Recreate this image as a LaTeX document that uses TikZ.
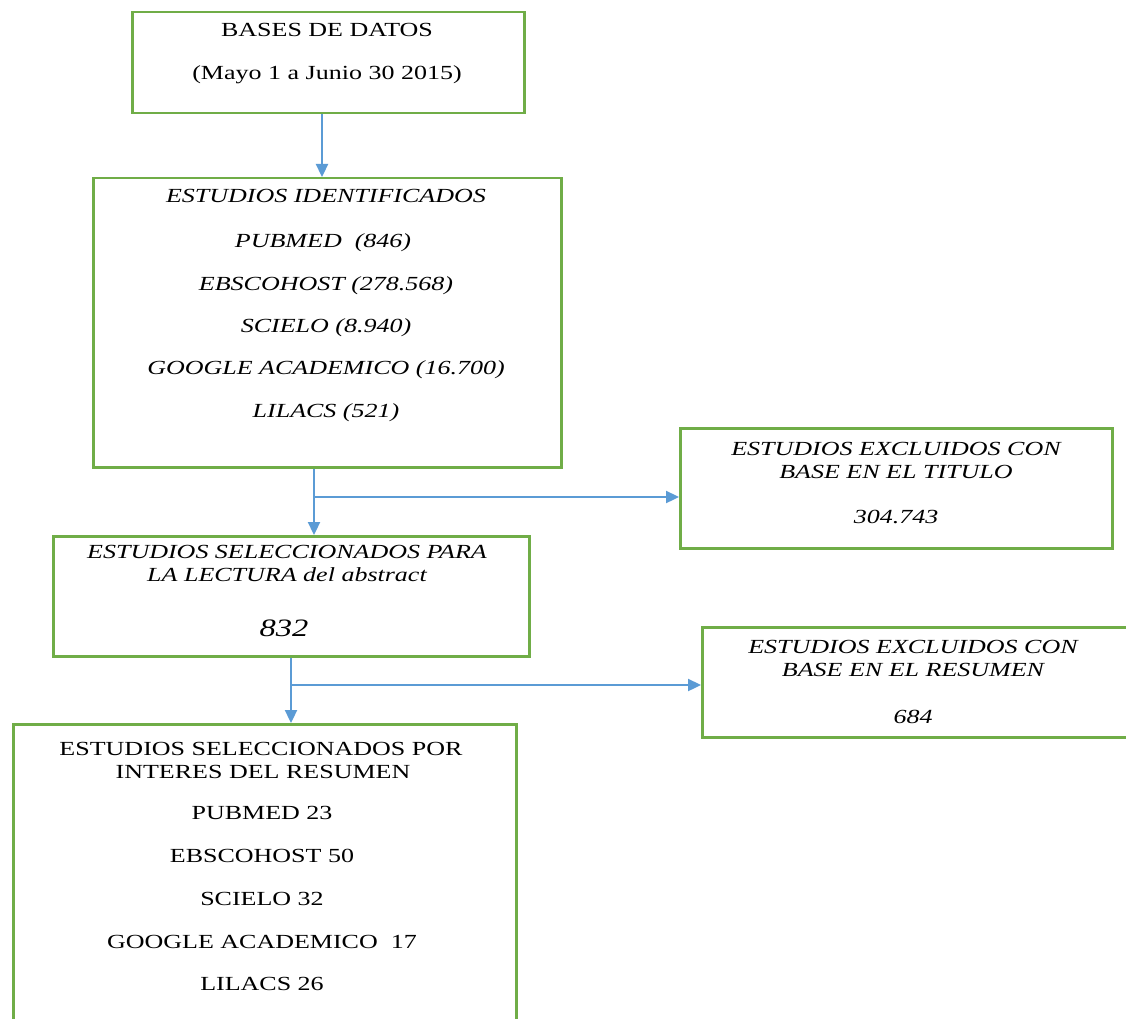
\documentclass[tikz,border=0pt]{standalone}
\usepackage{fontspec}
\setmainfont[FakeStretch=1.3]{Liberation Serif}
\usetikzlibrary{arrows.meta}
\definecolor{boxgreen}{HTML}{70AD47}
\definecolor{arrblue}{HTML}{5B9BD5}
\tikzset{
  box/.style={draw=boxgreen, line width=2.5pt, anchor=north west, inner sep=0pt},
  txt/.style={anchor=base, inner sep=0pt, font=\fontsize{20}{23}\selectfont},
  itx/.style={txt, font=\fontsize{20}{23}\selectfont\itshape},
  arr/.style={draw=arrblue, line width=2.3pt, -{Triangle[length=13pt,width=12pt]}}
}
\begin{document}
\begin{tikzpicture}[x=1pt,y=-1pt]
\useasboundingbox (0,0) rectangle (1126,1019);
\clip (0,0) rectangle (1126,1019);
\fill[white] (0,0) rectangle (1126,1019);
% boxes
\node[box, minimum width=392pt, minimum height=101pt] (b1) at (131,11) {};
\node[box, minimum width=468pt, minimum height=289pt] (b2) at (92,177) {};
\node[box, minimum width=432pt, minimum height=120pt] (b3) at (679,427) {};
\node[box, minimum width=476pt, minimum height=120pt] (b4) at (52,535) {};
\node[box, minimum width=460pt, minimum height=110pt] (b5) at (701,626) {};
\node[box, minimum width=503pt, minimum height=340pt] (b6) at (12,723) {};
% box 1 text
\node[txt] (t11) at (327,37) {BASES DE DATOS};
\node[txt] (t12) at (327,80) {(Mayo 1 a Junio 30 2015)};
% box 2 text
\node[itx] (t21) at (326,203) {ESTUDIOS IDENTIFICADOS};
\node[itx] (t22) at (323,247) {PUBMED\ \ (846)};
\node[itx] (t23) at (326,290) {EBSCOHOST (278.568)};
\node[itx] (t24) at (326,332) {SCIELO (8.940)};
\node[itx] (t25) at (326,374) {GOOGLE ACADEMICO (16.700)};
\node[itx] (t26) at (326,417) {LILACS (521)};
% box 3 text
\node[itx] (t31) at (896,455) {ESTUDIOS EXCLUIDOS CON};
\node[itx] (t32) at (896,478) {BASE EN EL TITULO};
\node[itx] (t33) at (896,523) {304.743};
% box 4 text
\node[itx] (t41) at (287,558) {ESTUDIOS SELECCIONADOS PARA};
\node[itx] (t42) at (287,581) {LA LECTURA del abstract};
\node[itx, font=\fontsize{25}{28}\selectfont\itshape] (t43) at (284,636) {832};
% box 5 text
\node[itx] (t51) at (913,653) {ESTUDIOS EXCLUIDOS CON};
\node[itx] (t52) at (913,676) {BASE EN EL RESUMEN};
\node[itx] (t53) at (913,723) {684};
% box 6 text
\node[txt] (t61) at (261,755) {ESTUDIOS SELECCIONADOS POR};
\node[txt] (t62) at (263,778) {INTERES DEL RESUMEN};
\node[txt] (t63) at (262,819) {PUBMED 23};
\node[txt] (t64) at (262,862) {EBSCOHOST 50};
\node[txt] (t65) at (262,905) {SCIELO 32};
\node[txt] (t66) at (262,948) {GOOGLE ACADEMICO\ \ 17};
\node[txt] (t67) at (262,990) {LILACS 26};
% connectors
\coordinate (x1) at (322,0);
\draw[arr] (b1.south -| x1) -- (b2.north -| x1);
\coordinate (j1) at (314,497);
\draw[arr] (b2.south -| j1) -- (b4.north -| j1);
\draw[arr] (j1) -- (b3.west |- j1);
\coordinate (j2) at (291,685);
\draw[arr] (b4.south -| j2) -- (b6.north -| j2);
\draw[arr] (j2) -- (b5.west |- j2);
\end{tikzpicture}
\end{document}
